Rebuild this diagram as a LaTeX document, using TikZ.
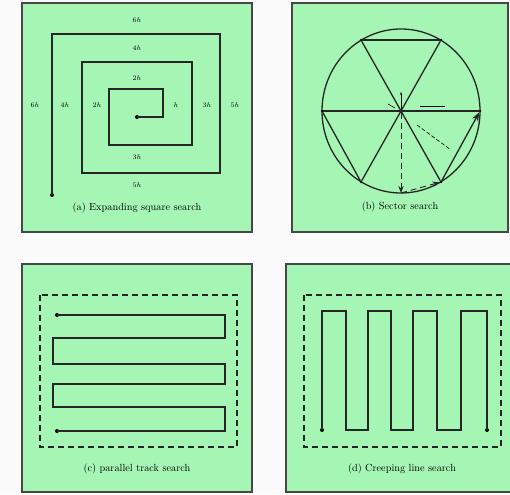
\documentclass[tikz,border=0pt]{standalone}
\usepackage{amsmath}
\usepackage{xcolor}
\usetikzlibrary{arrows.meta}

\definecolor{panelgreen}{RGB}{165,245,180}
\definecolor{framegray}{RGB}{70,70,70}
\definecolor{pagewhite}{RGB}{250,250,250}

\begin{document}
\begin{tikzpicture}[x=1pt, y=-1pt,
  panel/.style={draw=framegray, line width=1.6pt, fill=panelgreen},
  track/.style={line width=1.3pt, draw=black!85},
  area/.style={line width=1.2pt, draw=black!85, dash pattern=on 6pt off 4pt},
  lbl/.style={font=\scriptsize, inner sep=1pt},
  captext/.style={font=\fontsize{10.3}{12}\selectfont, inner sep=1pt},
  dot/.style={circle, fill=black, inner sep=0pt, minimum size=4pt},
  >=Stealth]

\fill[pagewhite] (0,0) rectangle (510,494);
\useasboundingbox (0,0) rectangle (510,494);

% Panels
\draw[panel] (22,3) rectangle (252,232);
\draw[panel] (292,3) rectangle (508,232);
\draw[panel] (22,264) rectangle (252,492);
\draw[panel] (286,264) rectangle (513,492);

% (a) Expanding square search
\node[dot] (sq0) at (137,117) {};
\coordinate (sq1) at (163,117);
\coordinate (sq2) at (163,89);
\coordinate (sq3) at (109,89);
\coordinate (sq4) at (109,145);
\coordinate (sq5) at (192,145);
\coordinate (sq6) at (192,62);
\coordinate (sq7) at (82,62);
\coordinate (sq8) at (82,173);
\coordinate (sq9) at (220,173);
\coordinate (sq10) at (220,34);
\coordinate (sq11) at (52,34);
\node[dot] (sq12) at (52,195) {};
\draw[track] (sq0.center) -- (sq1) -- (sq2) -- (sq3) -- (sq4) -- (sq5) -- (sq6)
  -- (sq7) -- (sq8) -- (sq9) -- (sq10) -- (sq11) -- (sq12.center);

\node[lbl] (d1r) at (176,105) {$h$};
\node[lbl] (d2t) at (137,78) {$2h$};
\node[lbl] (d2l) at (97,105) {$2h$};
\node[lbl] (d3b) at (137,157) {$3h$};
\node[lbl] (d3r) at (207,105) {$3h$};
\node[lbl] (d4t) at (137,48) {$4h$};
\node[lbl] (d4l) at (65,105) {$4h$};
\node[lbl] (d5b) at (137,185) {$5h$};
\node[lbl] (d5r) at (235,105) {$5h$};
\node[lbl] (d6t) at (137,20) {$6h$};
\node[lbl] (d6l) at (35,105) {$6h$};
\node[captext] (capa) at (137,208) {(a) Expanding square search};

% (b) Sector search
\draw[track] (401,111) ellipse (79 and 82);
\node[dot] (sc) at (401,111) {};
\node[dot, minimum size=2.5pt] (vR) at (480,111) {};
\node[dot, minimum size=2.5pt] (vTR) at (441,40) {};
\node[dot, minimum size=2.5pt] (vTL) at (361,40) {};
\node[dot, minimum size=2.5pt] (vL) at (322,111) {};
\node[dot, minimum size=2.5pt] (vBL) at (361,182) {};
\node[dot, minimum size=2.5pt] (vBR) at (441,182) {};
\coordinate (vB) at (401,193);
\coordinate (vUp) at (401,92);
\draw[track] (vL) -- (vR);
\draw[track] (vTL) -- (vBR);
\draw[track] (vTR) -- (vBL);
\draw[track] (vTL) -- (vTR);
\draw[track] (vL) -- (vBL);
\draw[track, ->] (vBR) -- (vR);
\draw[area, line width=0.9pt, ->] (sc) -- (vB);
\draw[area, line width=0.9pt, ->] (vB) -- (vBR);
\draw[line width=0.8pt, -{Stealth[length=3pt]}] (sc) -- (vUp);
% angle and range marks
\draw[line width=0.6pt] (420,106) -- (445,106);
\draw[line width=0.6pt] (388,104) -- (395,108);
\draw[line width=0.6pt, dash pattern=on 4pt off 2pt] (417,125) -- (451,150);
\node[captext] (capb) at (400,207) {(b) Sector search};

% (c) Parallel track search
\draw[area] (40,295) rectangle (237,447);
\node[dot] (pt0) at (57,315) {};
\coordinate (pt1) at (225,315);
\coordinate (pt2) at (225,338);
\coordinate (pt3) at (53,338);
\coordinate (pt4) at (53,364);
\coordinate (pt5) at (225,364);
\coordinate (pt6) at (225,384);
\coordinate (pt7) at (53,384);
\coordinate (pt8) at (53,407);
\coordinate (pt9) at (225,407);
\coordinate (pt10) at (225,431);
\node[dot] (pt11) at (57,431) {};
\draw[track] (pt0.center) -- (pt1) -- (pt2) -- (pt3) -- (pt4) -- (pt5) -- (pt6)
  -- (pt7) -- (pt8) -- (pt9) -- (pt10) -- (pt11.center);
\node[captext] (capc) at (137,469) {(c) parallel track search};

% (d) Creeping line search
\draw[area] (304,295) rectangle (501,447);
\node[dot] (cl0) at (322,430) {};
\node[dot] (cl1) at (487,430) {};
\draw[track] (cl0.center) -- (322,311) -- (346,311) -- (346,430) -- (368,430)
  -- (368,311) -- (391,311) -- (391,430) -- (413,430) -- (413,311) -- (437,311)
  -- (437,430) -- (461,430) -- (461,311) -- (487,311) -- (cl1.center);
\node[captext] (capd) at (402,469) {(d) Creeping line search};

\end{tikzpicture}
\end{document}
